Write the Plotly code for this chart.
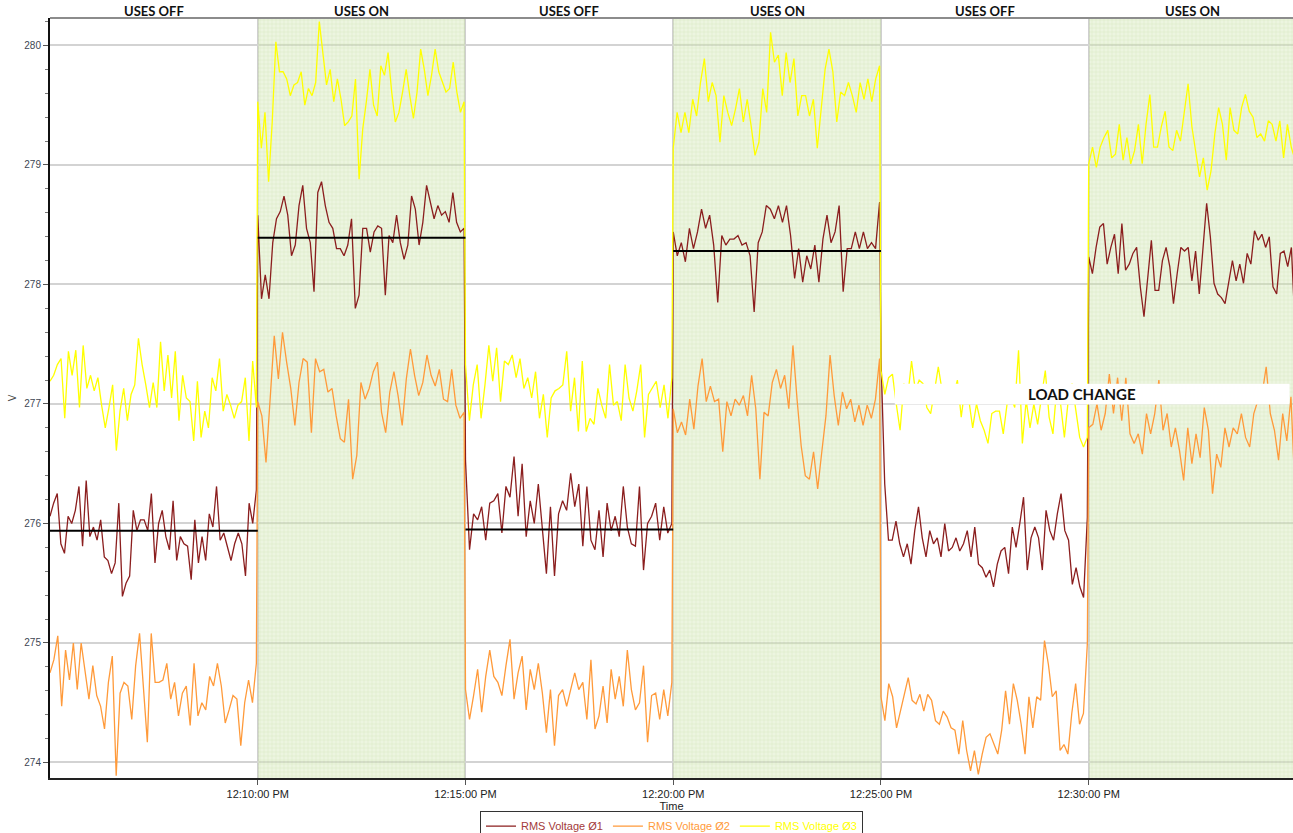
import numpy as np
import pandas as pd
import plotly.graph_objects as go

DAY = "2024-01-01 "
segment_starts = ["12:05:00", "12:10:00", "12:15:00", "12:20:00", "12:25:00", "12:30:00"]
segment_labels = ["USES OFF", "USES ON", "USES OFF", "USES ON", "USES OFF", "USES ON"]
reference_levels = [275.94, 278.39, 275.95, 278.28, None, None]
tick_times = ["12:10:00", "12:15:00", "12:20:00", "12:25:00", "12:30:00"]
series_names = ["RMS Voltage Ø1", "RMS Voltage Ø2", "RMS Voltage Ø3"]
series_colors = ["#8b1e1e", "#ff9a3a", "#ffff00"]
legend_text_colors = ["#a33a3a", "#ff9a3a", "#ffff00"]

# RMS Voltage Ø1 (maroon)
p1_s1 = [276.06, 276.17, 276.25, 275.83, 275.75, 276.06, 276.00, 276.11, 276.31, 275.81, 276.36, 275.89, 275.97, 275.86, 276.03, 275.72, 275.69, 275.58, 275.67, 276.17, 275.39, 275.50, 275.56, 276.11, 275.94, 276.03, 276.03, 275.94, 276.25, 275.67, 276.00, 276.11, 275.89, 275.78, 276.19, 275.69, 275.89, 275.83, 275.81, 275.53, 276.03, 275.67, 275.89, 275.69, 276.08, 275.97, 276.31, 275.86, 275.92, 275.81, 275.69, 275.83, 275.92, 275.83, 275.56, 276.17, 276.00, 276.28]
p1_s2 = [278.58, 277.88, 278.08, 277.88, 278.35, 278.55, 278.61, 278.74, 278.58, 278.24, 278.33, 278.66, 278.83, 278.47, 278.35, 277.94, 278.77, 278.86, 278.66, 278.52, 278.47, 278.30, 278.30, 278.24, 278.33, 278.55, 277.80, 277.91, 278.47, 278.47, 278.27, 278.44, 278.49, 278.47, 277.91, 278.41, 278.35, 278.58, 278.35, 278.21, 278.33, 278.74, 278.63, 278.33, 278.52, 278.83, 278.69, 278.55, 278.66, 278.58, 278.61, 278.52, 278.77, 278.52, 278.44, 278.47]
p1_s3 = [276.53, 275.78, 276.08, 276.03, 276.14, 275.86, 276.17, 276.19, 276.25, 275.92, 276.31, 276.22, 276.56, 276.06, 276.50, 275.89, 276.19, 276.00, 276.33, 275.94, 275.58, 276.14, 275.56, 276.08, 276.19, 276.11, 276.42, 276.14, 276.33, 275.81, 276.31, 275.86, 275.78, 276.11, 275.72, 276.17, 275.94, 276.06, 275.89, 276.31, 275.97, 275.83, 275.81, 276.31, 275.61, 276.00, 276.06, 276.17, 275.86, 276.14, 275.92, 276.00]
p1_s4 = [278.44, 278.24, 278.35, 278.19, 278.47, 278.30, 278.44, 278.63, 278.47, 278.58, 278.33, 277.85, 278.41, 278.33, 278.38, 278.38, 278.41, 278.33, 278.35, 278.24, 277.77, 278.35, 278.44, 278.66, 278.63, 278.55, 278.66, 278.52, 278.66, 278.41, 278.05, 278.30, 278.02, 278.24, 278.13, 278.33, 278.02, 278.38, 278.58, 278.35, 278.44, 278.66, 277.94, 278.30, 278.30, 278.44, 278.30, 278.44, 278.30, 278.35, 278.30, 278.69]
p1_s5 = [277.39, 276.33, 275.86, 275.86, 276.02, 275.83, 275.72, 275.83, 275.66, 275.94, 276.14, 275.88, 275.72, 275.94, 275.83, 275.88, 275.72, 276.00, 275.77, 275.80, 275.88, 275.77, 275.83, 275.94, 275.72, 275.97, 275.66, 275.63, 275.55, 275.61, 275.47, 275.66, 275.77, 275.80, 275.58, 275.97, 275.80, 276.00, 276.22, 275.61, 275.88, 275.97, 275.88, 275.61, 276.11, 275.94, 275.86, 276.08, 276.25, 275.94, 275.86, 275.49, 275.63, 275.47, 275.38, 276.05]
p1_s6 = [278.23, 278.09, 278.31, 278.48, 278.51, 278.17, 278.31, 278.42, 278.09, 278.51, 278.12, 278.17, 278.26, 278.31, 277.98, 277.73, 278.06, 278.37, 277.95, 277.95, 278.20, 278.31, 278.15, 277.84, 278.09, 278.31, 278.28, 278.31, 278.03, 278.28, 277.92, 278.31, 278.68, 278.40, 278.01, 277.92, 277.89, 277.84, 278.01, 278.20, 278.03, 278.17, 278.01, 278.26, 278.17, 278.45, 278.37, 278.42, 278.31, 278.40, 277.98, 277.92, 278.26, 278.28, 278.15, 278.31, 277.64]

# RMS Voltage Ø2 (orange)
p2_s1 = [274.75, 274.86, 275.06, 274.47, 274.94, 274.69, 275.00, 274.61, 275.00, 274.78, 274.53, 274.81, 274.56, 274.47, 274.28, 274.67, 274.89, 273.89, 274.58, 274.67, 274.64, 274.36, 274.81, 275.08, 274.61, 274.17, 275.08, 274.67, 274.67, 274.69, 274.83, 274.53, 274.67, 274.39, 274.58, 274.64, 274.31, 274.83, 274.39, 274.50, 274.44, 274.72, 274.64, 274.83, 274.64, 274.33, 274.44, 274.56, 274.53, 274.14, 274.50, 274.69, 274.50, 274.83]
p2_s2 = [277.02, 276.90, 276.51, 277.02, 277.57, 277.21, 277.60, 277.35, 277.13, 276.82, 277.18, 277.38, 277.35, 276.76, 277.38, 277.27, 277.29, 277.10, 277.13, 276.90, 276.71, 276.68, 277.04, 276.37, 276.57, 277.18, 277.04, 277.13, 277.27, 277.35, 276.93, 276.76, 277.10, 277.27, 277.07, 276.82, 277.21, 277.46, 277.24, 277.07, 277.18, 277.41, 277.24, 277.15, 277.29, 277.04, 277.02, 277.29, 276.99, 276.88, 276.93]
p2_s3 = [274.61, 274.36, 274.56, 274.78, 274.42, 274.72, 274.94, 274.72, 274.67, 274.56, 274.81, 275.03, 274.53, 274.75, 274.89, 274.44, 274.78, 274.61, 274.83, 274.58, 274.25, 274.61, 274.14, 274.56, 274.61, 274.47, 274.61, 274.75, 274.61, 274.67, 274.36, 274.86, 274.28, 274.39, 274.64, 274.33, 274.78, 274.53, 274.72, 274.47, 274.94, 274.61, 274.44, 274.50, 274.81, 274.17, 274.56, 274.58, 274.36, 274.61, 274.39, 274.67]
p2_s4 = [276.96, 276.76, 276.85, 276.74, 277.04, 276.79, 277.15, 277.38, 277.02, 277.15, 277.02, 277.04, 276.60, 277.02, 276.90, 277.04, 276.99, 277.07, 276.90, 277.24, 276.96, 276.37, 276.93, 276.90, 277.18, 277.29, 277.13, 277.24, 276.96, 277.49, 277.04, 276.65, 276.40, 276.37, 276.60, 276.29, 276.60, 276.90, 277.41, 277.07, 276.82, 277.10, 276.96, 277.04, 276.85, 276.99, 276.82, 276.99, 276.88, 277.04, 277.38]
p2_s5 = [274.55, 274.35, 274.66, 274.55, 274.29, 274.43, 274.57, 274.71, 274.52, 274.49, 274.57, 274.43, 274.57, 274.52, 274.35, 274.32, 274.43, 274.38, 274.29, 274.27, 274.07, 274.35, 274.10, 273.93, 274.10, 273.90, 274.07, 274.21, 274.24, 274.15, 274.07, 274.27, 274.60, 274.32, 274.66, 274.52, 274.32, 274.07, 274.55, 274.29, 274.55, 274.52, 275.02, 274.82, 274.55, 274.60, 274.10, 274.15, 274.07, 274.41, 274.66, 274.32, 274.41, 274.99]
p2_s6 = [276.80, 276.83, 277.00, 276.78, 276.92, 277.25, 276.92, 277.22, 276.86, 277.22, 276.75, 276.67, 276.75, 276.58, 276.92, 276.75, 276.92, 277.20, 276.78, 276.92, 276.64, 276.80, 276.61, 276.36, 276.80, 276.50, 276.75, 276.55, 276.97, 276.78, 276.25, 276.58, 276.47, 276.80, 276.64, 276.80, 276.75, 276.92, 276.72, 276.64, 276.92, 277.03, 277.08, 277.31, 276.92, 276.78, 276.53, 276.92, 276.69, 277.06, 276.25]

# RMS Voltage Ø3 (yellow)
p3_s1 = [277.19, 277.24, 277.33, 277.38, 276.88, 277.44, 277.24, 277.45, 276.97, 277.49, 277.13, 277.24, 277.11, 277.22, 276.99, 276.80, 276.97, 277.16, 276.61, 276.94, 277.13, 276.86, 277.08, 277.16, 277.55, 277.33, 277.16, 276.97, 277.18, 276.97, 277.52, 277.11, 277.41, 277.05, 277.44, 276.86, 277.24, 277.05, 277.02, 276.69, 277.19, 276.72, 276.94, 276.80, 277.22, 277.11, 277.38, 276.94, 277.08, 276.99, 276.88, 276.99, 277.02, 277.22, 276.69, 277.36, 276.97]
p3_s2 = [279.53, 279.14, 279.44, 278.86, 279.36, 280.03, 279.78, 279.78, 279.72, 279.58, 279.67, 279.69, 279.78, 279.50, 279.64, 279.58, 279.69, 280.20, 279.92, 279.67, 279.80, 279.53, 279.72, 279.55, 279.33, 279.36, 279.41, 279.72, 278.88, 279.30, 279.53, 279.80, 279.50, 279.41, 279.83, 279.75, 279.94, 279.61, 279.36, 279.44, 279.61, 279.80, 279.58, 279.39, 279.61, 279.97, 279.80, 279.58, 279.75, 279.97, 279.78, 279.69, 279.61, 279.64, 279.86, 279.61, 279.44, 279.53]
p3_s3 = [277.33, 276.86, 277.16, 277.33, 276.88, 277.16, 277.49, 277.19, 277.47, 277.02, 277.36, 277.33, 277.41, 277.22, 277.38, 277.13, 277.22, 277.05, 277.27, 276.88, 277.08, 276.72, 277.05, 277.11, 277.13, 277.16, 277.44, 276.94, 277.22, 276.77, 277.36, 276.77, 276.88, 276.83, 277.13, 276.99, 276.88, 277.33, 276.99, 277.02, 276.86, 277.33, 277.05, 276.94, 277.11, 277.33, 276.72, 277.08, 277.13, 277.19, 276.97, 277.16, 276.88, 277.22]
p3_s4 = [279.14, 279.44, 279.27, 279.44, 279.27, 279.55, 279.41, 279.69, 279.89, 279.53, 279.69, 279.58, 279.19, 279.58, 279.44, 279.33, 279.47, 279.64, 279.36, 279.55, 279.33, 279.08, 279.19, 279.64, 279.44, 280.11, 279.86, 279.92, 279.58, 279.94, 279.69, 279.89, 279.41, 279.58, 279.58, 279.41, 279.55, 279.14, 279.47, 279.80, 279.97, 279.78, 279.36, 279.61, 279.58, 279.69, 279.58, 279.44, 279.69, 279.55, 279.72, 279.53, 279.72, 279.83]
p3_s5 = [277.28, 277.08, 277.22, 277.25, 277.00, 276.78, 277.17, 277.06, 277.36, 277.11, 277.20, 277.17, 276.97, 276.92, 277.11, 277.31, 277.11, 277.14, 277.11, 277.08, 277.20, 276.89, 277.14, 277.03, 276.80, 277.00, 276.86, 276.78, 276.67, 276.92, 276.94, 276.94, 276.75, 277.00, 277.06, 276.97, 277.45, 276.67, 277.03, 276.80, 277.00, 276.83, 277.06, 277.28, 276.89, 276.75, 277.14, 277.00, 276.72, 277.03, 277.17, 276.94, 276.72, 276.64, 276.72]
p3_s6 = [279.01, 279.15, 278.98, 279.15, 279.23, 279.29, 279.06, 279.09, 279.34, 279.04, 279.23, 279.01, 279.12, 279.34, 279.01, 279.34, 279.59, 279.15, 279.15, 279.32, 279.45, 279.15, 279.12, 279.29, 279.20, 279.45, 279.68, 279.32, 279.12, 278.90, 279.06, 278.79, 278.95, 279.26, 279.48, 279.34, 279.04, 279.48, 279.29, 279.26, 279.48, 279.59, 279.45, 279.40, 279.23, 279.26, 279.20, 279.37, 279.34, 279.20, 279.37, 279.06, 279.34, 279.15, 279.04]

phase_segments = [
    [p1_s1, p1_s2, p1_s3, p1_s4, p1_s5, p1_s6],
    [p2_s1, p2_s2, p2_s3, p2_s4, p2_s5, p2_s6],
    [p3_s1, p3_s2, p3_s3, p3_s4, p3_s5, p3_s6],
]

Y_MIN, Y_MAX = 273.87, 280.23
X_MIN, X_MAX = pd.Timestamp(DAY + "12:05:00"), pd.Timestamp(DAY + "12:34:55")
SEG = pd.Timedelta(seconds=300)


def seg_times(start, n):
    t0 = pd.Timestamp(DAY + start)
    return [t0 + pd.Timedelta(seconds=float(s)) for s in np.linspace(0, 298, n)]


fig = go.Figure()

# data lines
for name, color, segs in zip(series_names, series_colors, phase_segments):
    xs, ys = [], []
    for start, vals in zip(segment_starts, segs):
        xs += seg_times(start, len(vals))
        ys += vals
    fig.add_trace(go.Scatter(x=xs, y=ys, mode="lines", name=name,
                             line=dict(color=color, width=1.3)))

# "USES ON" shaded, gridded regions
on_centers = [pd.Timestamp(DAY + s) + SEG / 2 for s, l in zip(segment_starts, segment_labels) if l == "USES ON"]
fig.add_trace(go.Bar(
    x=on_centers, y=[Y_MAX - Y_MIN] * len(on_centers), base=Y_MIN,
    width=[300000] * len(on_centers), showlegend=False, hoverinfo="skip",
    marker=dict(color="rgba(214,234,186,0.45)", line=dict(width=0),
                pattern=dict(shape="+", fgcolor="rgba(165,200,125,0.55)",
                             size=4, solidity=0.22, fillmode="overlay")),
))

# black reference levels
for start, lvl in zip(segment_starts, reference_levels):
    if lvl is None:
        continue
    t0 = pd.Timestamp(DAY + start)
    fig.add_trace(go.Scatter(x=[t0, t0 + SEG], y=[lvl, lvl], mode="lines",
                             line=dict(color="black", width=2), showlegend=False,
                             hoverinfo="skip"))

# header labels
for start, lab in zip(segment_starts, segment_labels):
    fig.add_annotation(x=pd.Timestamp(DAY + start) + SEG / 2, y=1, yref="paper",
                       yanchor="middle", text=f"<b>{lab}</b>", showarrow=False,
                       font=dict(family="Lato, Open Sans, sans-serif", size=13, color="#111"),
                       yshift=7)

# LOAD CHANGE box
fig.add_shape(type="rect", x0=pd.Timestamp(DAY + "12:25:20"), x1=pd.Timestamp(DAY + "12:34:50"),
              y0=276.996, y1=277.17, fillcolor="white", line=dict(width=0), layer="above")
fig.add_annotation(x=pd.Timestamp(DAY + "12:29:50"), y=277.083, text="<b>LOAD CHANGE</b>",
                   showarrow=False, font=dict(family="Lato, Open Sans, sans-serif", size=15, color="#111"))

# top border
fig.add_shape(type="line", xref="paper", yref="paper", x0=0, x1=1, y0=1, y1=1,
              line=dict(color="#8c8c8c", width=2))

legend_names = [f"<span style='color:{c}'>{n}</span>" for n, c in zip(series_names, legend_text_colors)]
for tr, ln in zip(fig.data[:3], legend_names):
    tr.name = ln

fig.update_layout(
    width=1293, height=833,
    margin=dict(l=50, r=0, t=18, b=55, autoexpand=False),
    paper_bgcolor="white", plot_bgcolor="white",
    barmode="overlay", bargap=0,
    showlegend=True,
    legend=dict(orientation="h", x=0.5, xanchor="center", y=-0.043, yanchor="top",
                bordercolor="#333", borderwidth=1, bgcolor="white",
                font=dict(family="Liberation Sans, Arial, sans-serif", size=11),
                itemwidth=30, tracegroupgap=0),
    xaxis=dict(type="date", range=[X_MIN, X_MAX], automargin=False,
               tickvals=[pd.Timestamp(DAY + t) for t in tick_times],
               tickformat="%-I:%M:%S %p",
               tickfont=dict(family="Liberation Sans Narrow, Arial Narrow, Liberation Sans, sans-serif", size=11, color="#222"),
               ticks="outside", ticklen=5, tickcolor="#555",
               showline=True, linecolor="#222", linewidth=2,
               showgrid=True, gridcolor="#cfcfcf", gridwidth=1.5,
               title=dict(text="Time", standoff=2,
                          font=dict(family="Liberation Sans Narrow, Arial Narrow, Liberation Sans, sans-serif", size=11, color="#222")),
               zeroline=False),
    yaxis=dict(range=[Y_MIN, Y_MAX], dtick=1, tick0=274, automargin=False,
               tickfont=dict(family="Liberation Sans, Arial, sans-serif", size=10, color="#3d4654"),
               ticks="outside", ticklen=5, tickcolor="#555",
               minor=dict(dtick=0.2, ticks="outside", ticklen=3, tickcolor="#777", showgrid=False),
               showline=True, linecolor="#111", linewidth=2,
               showgrid=True, gridcolor="#d3d3d3", gridwidth=1.5,
               title=dict(text="V", standoff=6, font=dict(family="Liberation Sans, Arial, sans-serif", size=10, color="#444")),
               zeroline=False),
)

# remove the browser's default 8px page margin so the figure sits at the page origin
fig.write_html("out.html", config={"displayModeBar": False},
               post_script="document.body.style.margin='0px';")
